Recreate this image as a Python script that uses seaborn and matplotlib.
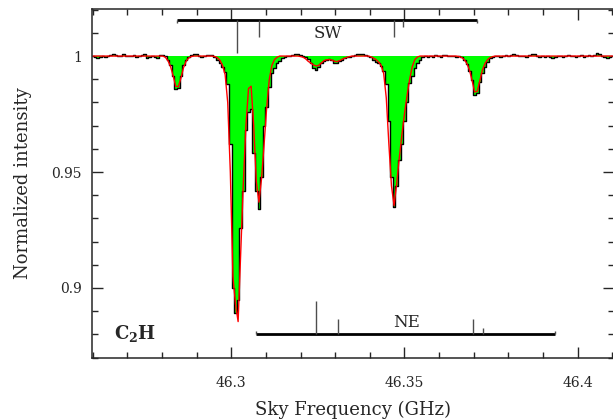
import numpy as np
import pandas as pd
import matplotlib
matplotlib.use("Agg")
import matplotlib.pyplot as plt
import seaborn as sns
from matplotlib.ticker import MultipleLocator, FuncFormatter

sns.set_style("ticks")
plt.rcParams["font.family"] = ["DejaVu Serif"]
plt.rcParams["mathtext.fontset"] = "dejavuserif"

# ---------------- DATA ----------------
# spectrometer channels: start frequency and width (GHz)
chan_start = 46.26
chan_width = 0.00075

# observed normalized spectrum, one value per channel
obs = [
    1.0000, 0.9995, 0.9992, 0.9998, 1.0000, 0.9998, 1.0002, 1.0003, 1.0008, 1.0003,
    0.9999, 1.0002, 1.0007, 1.0001, 0.9999, 1.0000, 1.0003, 0.9998, 1.0001, 1.0005,
    1.0009, 0.9992, 0.9998, 1.0001, 0.9997, 0.9991, 1.0004, 1.0006, 1.0001, 0.9985,
    0.9960, 0.9915, 0.9860, 0.9862, 0.9915, 0.9960, 0.9985, 0.9996, 1.0003, 1.0011,
    1.0009, 1.0002, 0.9998, 1.0000, 1.0003, 1.0005, 1.0003, 0.9995, 0.9985, 0.9970,
    0.9955, 0.9930, 0.9880, 0.9620, 0.9000, 0.8890, 0.8950, 0.9260, 0.9420, 0.9680,
    0.9760, 0.9770, 0.9580, 0.9420, 0.9340, 0.9480, 0.9700, 0.9780, 0.9865, 0.9925,
    0.9950, 0.9968, 0.9980, 0.9990, 0.9995, 1.0002, 1.0000, 1.0003, 1.0008, 1.0010,
    1.0004, 1.0002, 0.9998, 0.9988, 0.9970, 0.9950, 0.9942, 0.9955, 0.9970, 0.9980,
    0.9985, 0.9988, 0.9982, 0.9972, 0.9970, 0.9978, 0.9985, 0.9990, 0.9995, 0.9998,
    1.0000, 1.0003, 1.0007, 1.0010, 1.0008, 1.0006, 1.0001, 0.9995, 0.9983, 0.9975,
    0.9970, 0.9958, 0.9935, 0.9880, 0.9720, 0.9480, 0.9350, 0.9440, 0.9550, 0.9620,
    0.9720, 0.9800, 0.9885, 0.9913, 0.9947, 0.9968, 0.9985, 0.9995, 1.0000, 0.9998,
    1.0002, 0.9997, 1.0003, 1.0000, 0.9996, 1.0004, 1.0003, 0.9999, 1.0002, 1.0000,
    0.9997, 1.0000, 0.9995, 0.9985, 0.9965, 0.9935, 0.9895, 0.9832, 0.9840, 0.9890,
    0.9925, 0.9955, 0.9975, 0.9990, 0.9998, 1.0002, 1.0000, 0.9997, 1.0001, 1.0004,
    1.0002, 1.0006, 1.0010, 1.0003, 0.9999, 1.0002, 1.0000, 0.9997, 1.0003, 1.0008,
    1.0010, 1.0002, 0.9998, 1.0001, 0.9996, 1.0000, 0.9995, 0.9991, 0.9997, 1.0002,
    1.0000, 0.9996, 1.0001, 1.0004, 0.9999, 1.0002, 0.9997, 1.0000, 1.0003, 0.9998,
    1.0001, 1.0004, 1.0000, 1.0005, 1.0012, 1.0008, 1.0001, 0.9996, 0.9990, 0.9995,
    1.0001,
]

# fitted model spectrum on the same channels
model = [
    1.0000, 1.0000, 1.0000, 1.0000, 1.0000, 1.0000, 1.0000, 1.0000, 1.0000, 1.0000,
    1.0000, 1.0000, 1.0000, 1.0000, 1.0000, 1.0000, 1.0000, 1.0000, 1.0000, 1.0000,
    1.0000, 1.0000, 1.0000, 1.0000, 1.0000, 1.0000, 1.0000, 1.0000, 0.9995, 0.9980,
    0.9955, 0.9915, 0.9870, 0.9868, 0.9905, 0.9950, 0.9978, 0.9992, 0.9998, 1.0000,
    1.0000, 1.0000, 1.0000, 1.0000, 1.0000, 1.0000, 1.0000, 0.9998, 0.9993, 0.9982,
    0.9960, 0.9920, 0.9800, 0.9500, 0.9050, 0.8930, 0.8855, 0.9150, 0.9450, 0.9700,
    0.9860, 0.9870, 0.9700, 0.9460, 0.9370, 0.9470, 0.9620, 0.9780, 0.9900, 0.9960,
    0.9985, 0.9995, 1.0000, 1.0000, 1.0000, 1.0000, 1.0000, 1.0000, 1.0000, 1.0000,
    0.9998, 0.9995, 0.9988, 0.9977, 0.9970, 0.9962, 0.9957, 0.9960, 0.9970, 0.9980,
    0.9984, 0.9985, 0.9983, 0.9978, 0.9976, 0.9980, 0.9986, 0.9991, 0.9995, 0.9998,
    1.0000, 1.0000, 1.0000, 1.0000, 1.0000, 1.0000, 1.0000, 0.9997, 0.9992, 0.9985,
    0.9975, 0.9960, 0.9925, 0.9820, 0.9620, 0.9440, 0.9355, 0.9450, 0.9560, 0.9660,
    0.9750, 0.9830, 0.9900, 0.9955, 0.9985, 0.9996, 1.0000, 1.0000, 1.0000, 1.0000,
    1.0000, 1.0000, 1.0000, 1.0000, 1.0000, 1.0000, 1.0000, 1.0000, 1.0000, 1.0000,
    1.0000, 0.9998, 0.9994, 0.9985, 0.9968, 0.9940, 0.9895, 0.9845, 0.9848, 0.9895,
    0.9940, 0.9968, 0.9985, 0.9994, 0.9998, 1.0000, 1.0000, 1.0000, 1.0000, 1.0000,
    1.0000, 1.0000, 1.0000, 1.0000, 1.0000, 1.0000, 1.0000, 1.0000, 1.0000, 1.0000,
    1.0000, 1.0000, 1.0000, 1.0000, 1.0000, 1.0000, 1.0000, 1.0000, 1.0000, 1.0000,
    1.0000, 1.0000, 1.0000, 1.0000, 1.0000, 1.0000, 1.0000, 1.0000, 1.0000, 1.0000,
    1.0000, 1.0000, 1.0000, 1.0000, 1.0000, 1.0000, 1.0000, 1.0000, 1.0000, 1.0000,
    1.0000,
]

# hyperfine component positions (GHz) and relative strengths for each velocity component
sw_lines = [46.2843, 46.3018, 46.3081, 46.3471, 46.3497, 46.3709]
sw_strength = [0.1, 1.0, 0.5, 0.5, 0.2, 0.1]
ne_lines = [46.3071, 46.3246, 46.3307, 46.3699, 46.3728, 46.3935]
ne_strength = [0.1, 1.0, 0.45, 0.45, 0.18, 0.1]

freq = chan_start + chan_width * np.arange(len(obs))
df = pd.DataFrame({"freq": freq, "obs": obs, "model": model})

# ---------------- PLOT ----------------
fig = plt.figure(figsize=(6.13, 4.2), dpi=100)
ax = fig.add_axes([0.1493, 0.1476, 0.852, 0.831])

ax.fill_between(df["freq"], df["obs"], 1.0, step="mid", color="#00ff00", linewidth=0)
sns.lineplot(data=df, x="freq", y="obs", drawstyle="steps-mid", color="black", linewidth=1.0, ax=ax)
sns.lineplot(data=df, x="freq", y="model", color="red", linewidth=1.0, ax=ax)

# component markers
sw_y, ne_y = 1.0155, 0.8802
tick_scale = 0.0142
ax.hlines(sw_y, sw_lines[0], sw_lines[-1], color="black", linewidth=2)
ax.vlines(sw_lines, [sw_y - s * tick_scale for s in sw_strength], sw_y, color="0.3", linewidth=1)
ax.hlines(ne_y, ne_lines[0], ne_lines[-1], color="black", linewidth=2)
ax.vlines(ne_lines, ne_y, [ne_y + s * tick_scale for s in ne_strength], color="0.3", linewidth=1)
ax.text(46.3279, 1.0099, "SW", ha="center", va="center", fontsize=12)
ax.text(46.3506, 0.8849, "NE", ha="center", va="center", fontsize=12)
ax.text(46.2662, 0.8802, r"$\mathbf{C_2H}$", ha="left", va="center", fontsize=13)

ax.set_xlim(46.2597, 46.4104)
ax.set_ylim(0.8698, 1.0203)
ax.xaxis.set_major_locator(MultipleLocator(0.05))
ax.xaxis.set_minor_locator(MultipleLocator(0.01))
ax.yaxis.set_major_locator(MultipleLocator(0.05))
ax.yaxis.set_minor_locator(MultipleLocator(0.01))
fmt = FuncFormatter(lambda v, p: f"{round(v, 4):g}")
ax.xaxis.set_major_formatter(fmt)
ax.yaxis.set_major_formatter(fmt)
ax.tick_params(which="both", direction="in", top=True, right=True, width=1)
ax.tick_params(which="major", length=8, labelsize=10)
ax.tick_params(which="minor", length=4)
ax.tick_params(axis="x", which="major", pad=13)
ax.tick_params(axis="y", which="major", pad=7)
for sp in ax.spines.values():
    sp.set_linewidth(1.1)

ax.set_xlabel("Sky Frequency (GHz)", fontsize=13, labelpad=8)
ax.set_ylabel("Normalized intensity", fontsize=13, labelpad=14)

plt.savefig("out.png", dpi=100)
